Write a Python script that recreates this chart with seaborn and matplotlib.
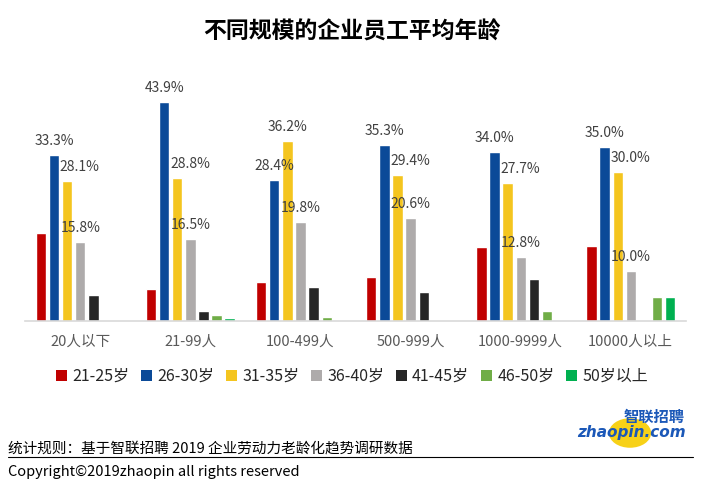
import matplotlib
matplotlib.use("Agg")
import matplotlib.pyplot as plt
import seaborn as sns
import pandas as pd
from matplotlib.patches import Patch, Circle
from matplotlib.lines import Line2D

# data (percent)
sizes = ['20人以下', '21-99人', '100-499人', '500-999人', '1000-9999人', '10000人以上']
ages = ['21-25岁', '26-30岁', '31-35岁', '36-40岁', '41-45岁', '46-50岁', '50岁以上']
age_21_25 = [17.6, 6.4, 7.8, 8.8, 14.8, 15.0]
age_26_30 = [33.3, 43.9, 28.4, 35.3, 34.0, 35.0]
age_31_35 = [28.1, 28.8, 36.2, 29.4, 27.7, 30.0]
age_36_40 = [15.8, 16.5, 19.8, 20.6, 12.8, 10.0]
age_41_45 = [5.2, 2.0, 6.8, 5.8, 8.4, 0.0]
age_46_50 = [0.0, 1.2, 0.8, 0.0, 2.0, 4.8]
age_50_up = [0.0, 0.6, 0.0, 0.0, 0.0, 4.8]
labeled = ['26-30岁', '31-35岁', '36-40岁']

colors = ['#C00000', '#0B4A98', '#F4C51F', '#AEABAB', '#262626', '#70AD47', '#00B050']

series = [age_21_25, age_26_30, age_31_35, age_36_40, age_41_45, age_46_50, age_50_up]
rows = []
for a, vals in zip(ages, series):
    for s, v in zip(sizes, vals):
        rows.append({'size': s, 'age': a, 'pct': v})
df = pd.DataFrame(rows)

sns.set_style("white")
plt.rcParams['font.family'] = ['Noto Sans CJK SC', 'DejaVu Sans']

fig = plt.figure(figsize=(7.04, 4.92), dpi=100)
ax = fig.add_axes([0.036, 0.3476, 0.938, 0.486])

sns.barplot(data=df, x='size', y='pct', hue='age', order=sizes, hue_order=ages,
            palette=colors, width=0.83, gap=0.22, saturation=1, legend=False, ax=ax)

ax.set_ylim(0, 48)
ax.set_xlim(-0.5, 5.5)
ax.set_xlabel('')
ax.set_ylabel('')
ax.set_yticks([])
for side in ['left', 'right', 'top']:
    ax.spines[side].set_visible(False)
ax.spines['bottom'].set_color('#d9d9d9')
ax.spines['bottom'].set_linewidth(1.2)
ax.tick_params(axis='x', length=0, pad=10, labelsize=10.5, labelcolor='#595959')

# percent labels on three series
for i, a in enumerate(ages):
    if a not in labeled:
        continue
    for j, bar in enumerate(ax.containers[i]):
        v = series[i][j]
        dx = 0
        if a == '31-35岁' and age_26_30[j] > v:
            dx = 9
        ax.annotate(f'{v:.1f}%', (bar.get_x() + bar.get_width() / 2, bar.get_height()),
                    xytext=(dx, 5), textcoords='offset points', ha='center', va='bottom',
                    fontsize=10, color='#404040')

fig.text(0.5, 0.935, '不同规模的企业员工平均年龄', ha='center', va='center',
         fontsize=16.5, fontweight='bold', color='black')

handles = [Patch(facecolor=c, edgecolor='none') for c in colors]
fig.legend(handles, ages, loc='center', bbox_to_anchor=(0.5, 0.235), ncol=7, frameon=False,
           fontsize=11.5, handlelength=0.7, handleheight=0.7, handletextpad=0.3, columnspacing=0.75)

# footer
fig.text(0.012, 0.089, '统计规则：基于智联招聘 2019 企业劳动力老龄化趋势调研数据', ha='left', va='center',
         fontsize=10.5, color='black')
fig.add_artist(Line2D([0.011, 0.985], [0.071, 0.071], color='black', lw=0.8))
fig.text(0.012, 0.04, 'Copyright©2019zhaopin all rights reserved', ha='left', va='center',
         fontsize=10.5, color='black')

# logo
fig.add_artist(Circle((630 / 704, 1 - 433 / 492), 0.03, transform=fig.transFigure,
                      facecolor='#F7D117', edgecolor='none', zorder=1))
fig.text(654 / 704, 1 - 417 / 492, '智联招聘', ha='center', va='center', fontsize=11,
         fontweight='bold', fontstyle='italic', color='#1B58B8', zorder=3)
fig.text(631 / 704, 1 - 433 / 492, 'zhaopin.com', ha='center', va='center', fontsize=11,
         fontweight='bold', fontstyle='italic', color='#1B58B8', family='DejaVu Sans', zorder=3)

fig.savefig('out.png', dpi=100)
